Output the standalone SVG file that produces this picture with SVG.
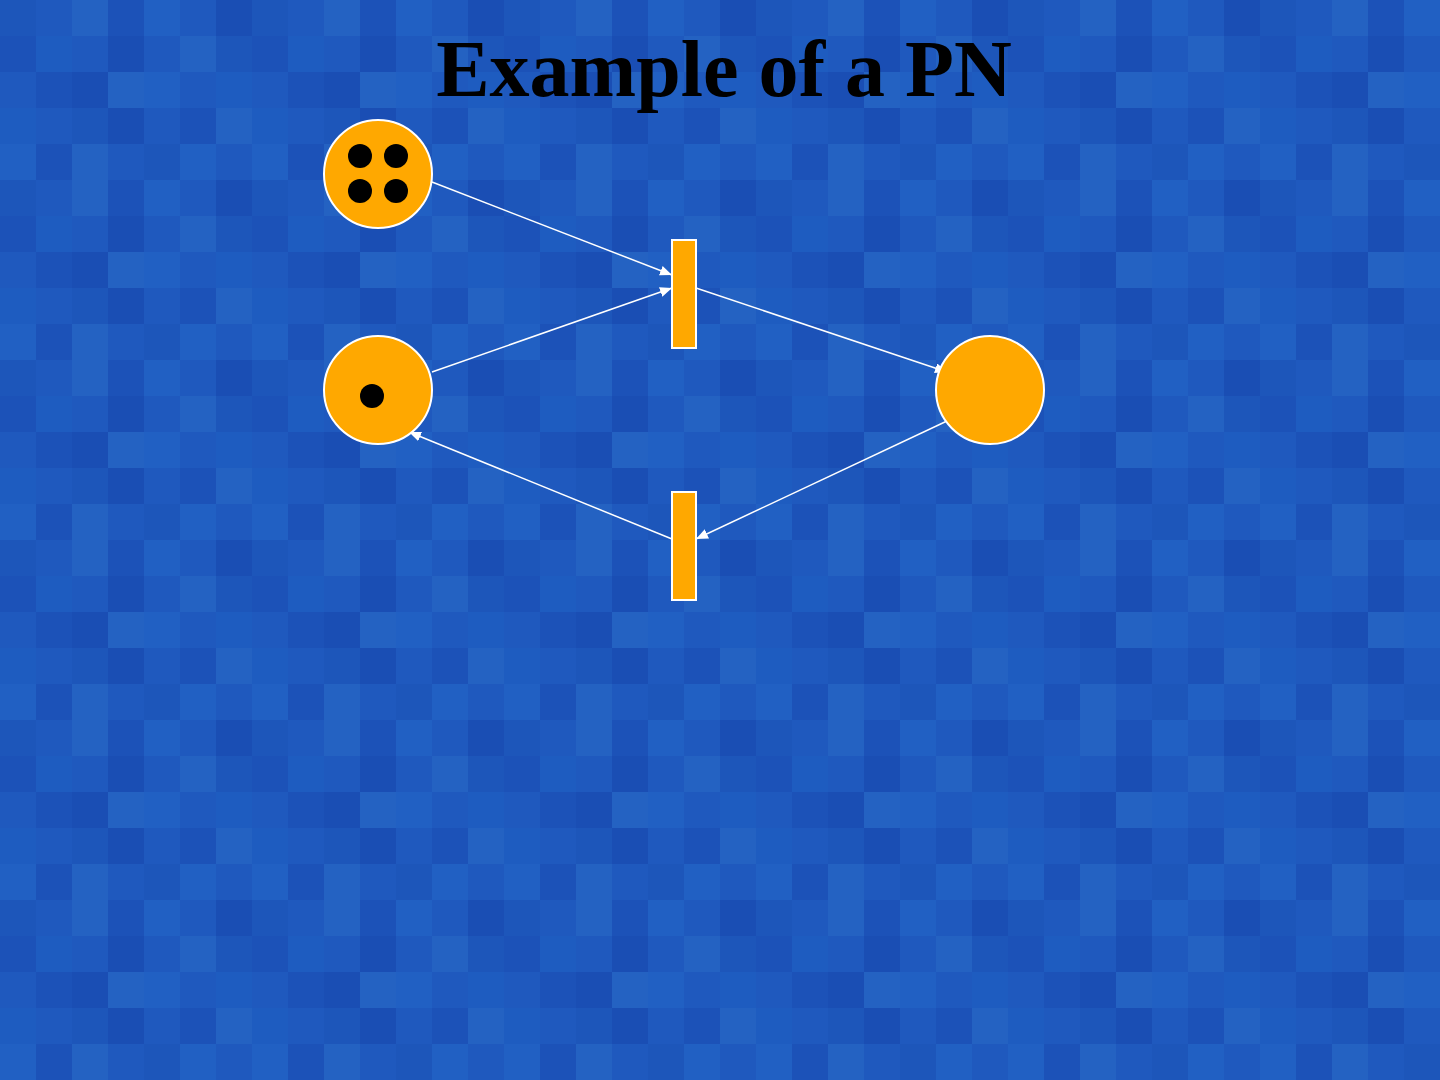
<svg xmlns="http://www.w3.org/2000/svg" width="1440" height="1080" viewBox="0 0 1440 1080">
<defs>
<style>
.place{fill:#ffa800;stroke:#ffffff;stroke-width:2}
.trans{fill:#ffa800;stroke:#ffffff;stroke-width:2}
.token{fill:#000000}
.arc{stroke:#ffffff;stroke-width:1.5;fill:none;marker-end:url(#ah)}
.title{font-family:"Liberation Serif","Times New Roman",serif;font-weight:bold;font-size:80px;fill:#000000}
.a{fill:#1c52b8}.b{fill:#2160c3}.c{fill:#1a4eb4}.d{fill:#2462c2}.e{fill:#1d56ba}.f{fill:#1e5cc0}
</style>
<marker id="ah" viewBox="0 0 12 10" refX="12" refY="5" markerWidth="12" markerHeight="10" markerUnits="userSpaceOnUse" orient="auto">
<path d="M0,0 L12,5 L0,10 Z" fill="#ffffff"/>
</marker>
<pattern id="mosaic" x="0" y="0" width="252" height="180" patternUnits="userSpaceOnUse">
<rect width="252" height="180" fill="#1f59be"/>
<rect x="0" y="0" width="36" height="36" class="e"/><rect x="72" y="0" width="36" height="36" class="d"/><rect x="108" y="0" width="36" height="36" class="a"/><rect x="144" y="0" width="36" height="36" class="b"/><rect x="216" y="0" width="36" height="36" class="c"/>
<rect x="0" y="36" width="36" height="36" class="a"/><rect x="36" y="36" width="36" height="36" class="f"/><rect x="108" y="36" width="36" height="36" class="c"/><rect x="180" y="36" width="36" height="36" class="d"/><rect x="216" y="36" width="36" height="36" class="e"/>
<rect x="36" y="72" width="36" height="36" class="a"/><rect x="72" y="72" width="36" height="36" class="c"/><rect x="108" y="72" width="36" height="36" class="d"/><rect x="144" y="72" width="36" height="36" class="b"/><rect x="216" y="72" width="36" height="36" class="f"/>
<rect x="0" y="108" width="36" height="36" class="f"/><rect x="72" y="108" width="36" height="36" class="e"/><rect x="108" y="108" width="36" height="36" class="c"/><rect x="180" y="108" width="36" height="36" class="a"/><rect x="216" y="108" width="36" height="36" class="d"/>
<rect x="0" y="144" width="36" height="36" class="b"/><rect x="36" y="144" width="36" height="36" class="a"/><rect x="72" y="144" width="36" height="36" class="d"/><rect x="144" y="144" width="36" height="36" class="e"/><rect x="180" y="144" width="36" height="36" class="b"/>
</pattern>
</defs>
<rect x="0" y="0" width="1440" height="1080" fill="url(#mosaic)"/>
<text class="title" x="724" y="96" text-anchor="middle">Example of a PN</text>
<g id="connectors">
<line class="arc" x1="432" y1="182" x2="672" y2="275"/>
<line class="arc" x1="432" y1="372" x2="672" y2="288"/>
<line class="arc" x1="696" y1="288" x2="947" y2="372"/>
<line class="arc" x1="947" y1="421" x2="696" y2="539"/>
<line class="arc" x1="672" y1="539" x2="409" y2="432"/>
</g>
<g id="p1">
<circle class="place" cx="378" cy="174" r="54"/>
<circle class="token" cx="360" cy="156" r="12"/>
<circle class="token" cx="396" cy="156" r="12"/>
<circle class="token" cx="360" cy="191" r="12"/>
<circle class="token" cx="396" cy="191" r="12"/>
</g>
<g id="p2">
<circle class="place" cx="378" cy="390" r="54"/>
<circle class="token" cx="372" cy="396" r="12"/>
</g>
<g id="p3">
<circle class="place" cx="990" cy="390" r="54"/>
</g>
<g id="t1">
<rect class="trans" x="672" y="240" width="24" height="108"/>
</g>
<g id="t2">
<rect class="trans" x="672" y="492" width="24" height="108"/>
</g>
</svg>
